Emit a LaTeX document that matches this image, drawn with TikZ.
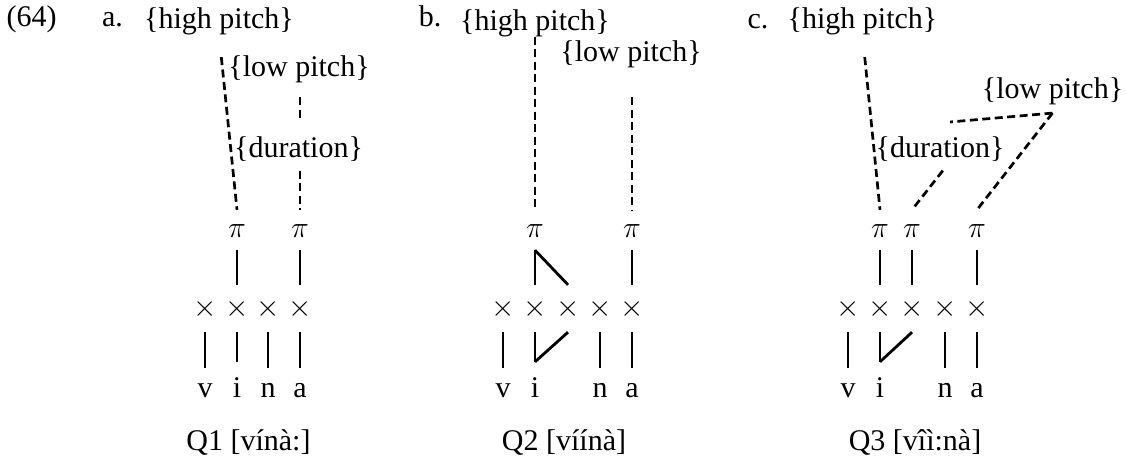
\RequirePackage{fix-cm}
\documentclass[tikz,border=0pt]{standalone}
\usepackage{fontspec}
\setmainfont{Liberation Serif}
\usetikzlibrary{calc}
\newcommand{\fsz}{\fontsize{30}{36}\selectfont}
\tikzset{
  txt/.style={font=\fsz, inner sep=0pt, anchor=base},
  pinode/.style={txt, text height=27pt, text depth=13pt},
  xnode/.style={txt, text height=31.5pt, text depth=15.5pt},
  segnode/.style={txt, text height=29pt, text depth=7pt},
  solid line/.style={line width=2.8pt},
  dsh/.style={line width=2.7pt, dash pattern=on 8pt off 4.5pt},
}
\begin{document}
\begin{tikzpicture}[x=1pt,y=-1pt]
\useasboundingbox (0,0) rectangle (1127,459);
% ---------- labels
\node[txt] (ex) at (31.5,26) {(64)};
\node[txt] (la) at (112.5,26) {a.};
\node[txt] (lb) at (430,26) {b.};
\node[txt] (lc) at (758,28) {c.};
% ---------- panel a
\node[txt] (hiA) at (219,28) {\{high pitch\}};
\node[txt] (loA) at (299,76) {\{low pitch\}};
\node[txt] (duA) at (298.5,157) {\{duration\}};
\node[pinode] (piA1) at (237,237) {$\pi$};
\node[pinode] (piA2) at (300,237) {$\pi$};
\node[xnode] (xA1) at (205,316.5) {$\times$};
\node[xnode] (xA2) at (237,316.5) {$\times$};
\node[xnode] (xA3) at (268,316.5) {$\times$};
\node[xnode] (xA4) at (300,316.5) {$\times$};
\node[segnode] (vA) at (205,397) {v};
\node[segnode, text height=35pt] (iA) at (237,397) {i};
\node[segnode] (nA) at (268,397) {n};
\node[segnode] (aA) at (300,397) {a};
\node[txt] (qA) at (248.5,450) {Q1 [vínà:]};
\draw[dsh, shorten <=22.5pt] (hiA.south) -- (piA1.north);
\draw[dsh, shorten <=14.5pt, shorten >=16pt] (loA.south -| piA2.north) -- (duA.north -| piA2.north);
\draw[dsh, shorten <=9.5pt] (duA.south -| piA2.north) -- (piA2.north);
\draw[solid line] (piA1.south) -- (xA2.north);
\draw[solid line] (piA2.south) -- (xA4.north);
\draw[solid line] (xA1.south) -- (vA.north);
\draw[solid line] (xA2.south) -- (iA.north);
\draw[solid line] (xA3.south) -- (nA.north);
\draw[solid line] (xA4.south) -- (aA.north);
% ---------- panel b
\node[txt] (hiB) at (535,30) {\{high pitch\}};
\node[txt] (loB) at (631,61) {\{low pitch\}};
\node[pinode] (piB1) at (535,237) {$\pi$};
\node[pinode] (piB2) at (632,237) {$\pi$};
\node[xnode] (xB1) at (503,316.5) {$\times$};
\node[xnode] (xB2) at (535,316.5) {$\times$};
\node[xnode] (xB3) at (568,316.5) {$\times$};
\node[xnode] (xB4) at (600,316.5) {$\times$};
\node[xnode] (xB5) at (632,316.5) {$\times$};
\node[segnode] (vB) at (503,397) {v};
\node[segnode, text height=35pt] (iB) at (535,397) {i};
\node[segnode] (nB) at (600,397) {n};
\node[segnode] (aB) at (632,397) {a};
\node[txt] (qB) at (564,450) {Q2 [víínà]};
\draw[dsh] (hiB.south -| piB1.north) -- (piB1.north);
\draw[dsh, shorten <=29.5pt] (loB.south -| piB2.north) -- (piB2.north);
\draw[solid line] (piB1.south) -- (xB2.north);
\draw[solid line] (piB1.south) -- (xB3.north);
\draw[solid line] (piB2.south) -- (xB5.north);
\draw[solid line] (xB1.south) -- (vB.north);
\draw[solid line] (xB2.south) -- (iB.north);
\draw[solid line] (iB.north) -- (xB3.south);
\draw[solid line] (xB4.south) -- (nB.north);
\draw[solid line] (xB5.south) -- (aB.north);
% ---------- panel c
\node[txt] (hiC) at (862.5,28) {\{high pitch\}};
\node[txt] (loC) at (1052.5,98) {\{low pitch\}};
\node[txt] (duC) at (940,157) {\{duration\}};
\node[pinode] (piC1) at (880,237) {$\pi$};
\node[pinode] (piC2) at (912,237) {$\pi$};
\node[pinode] (piC3) at (977,237) {$\pi$};
\node[xnode] (xC1) at (848,316.5) {$\times$};
\node[xnode] (xC2) at (880,316.5) {$\times$};
\node[xnode] (xC3) at (912,316.5) {$\times$};
\node[xnode] (xC4) at (945,316.5) {$\times$};
\node[xnode] (xC5) at (977,316.5) {$\times$};
\node[segnode] (vC) at (848,397) {v};
\node[segnode, text height=35pt] (iC) at (880,397) {i};
\node[segnode] (nC) at (945,397) {n};
\node[segnode] (aC) at (977,397) {a};
\node[txt] (qC) at (915,450) {Q3 [vîì:nà]};
\coordinate (loCp) at ([yshift=-8.5pt]loC.south);
\draw[dsh, shorten <=22.5pt] (hiC.south) -- (piC1.north);
\draw[dsh, shorten <=12pt] (duC.-51) -- (piC2.north);
\draw[dsh] (loCp) -- ([xshift=10pt,yshift=14pt]duC.north);
\draw[dsh] (loCp) -- (piC3.north);
\draw[solid line] (piC1.south) -- (xC2.north);
\draw[solid line] (piC2.south) -- (xC3.north);
\draw[solid line] (piC3.south) -- (xC5.north);
\draw[solid line] (xC1.south) -- (vC.north);
\draw[solid line] (xC2.south) -- (iC.north);
\draw[solid line] (iC.north) -- (xC3.south);
\draw[solid line] (xC4.south) -- (nC.north);
\draw[solid line] (xC5.south) -- (aC.north);
\end{tikzpicture}
\end{document}
